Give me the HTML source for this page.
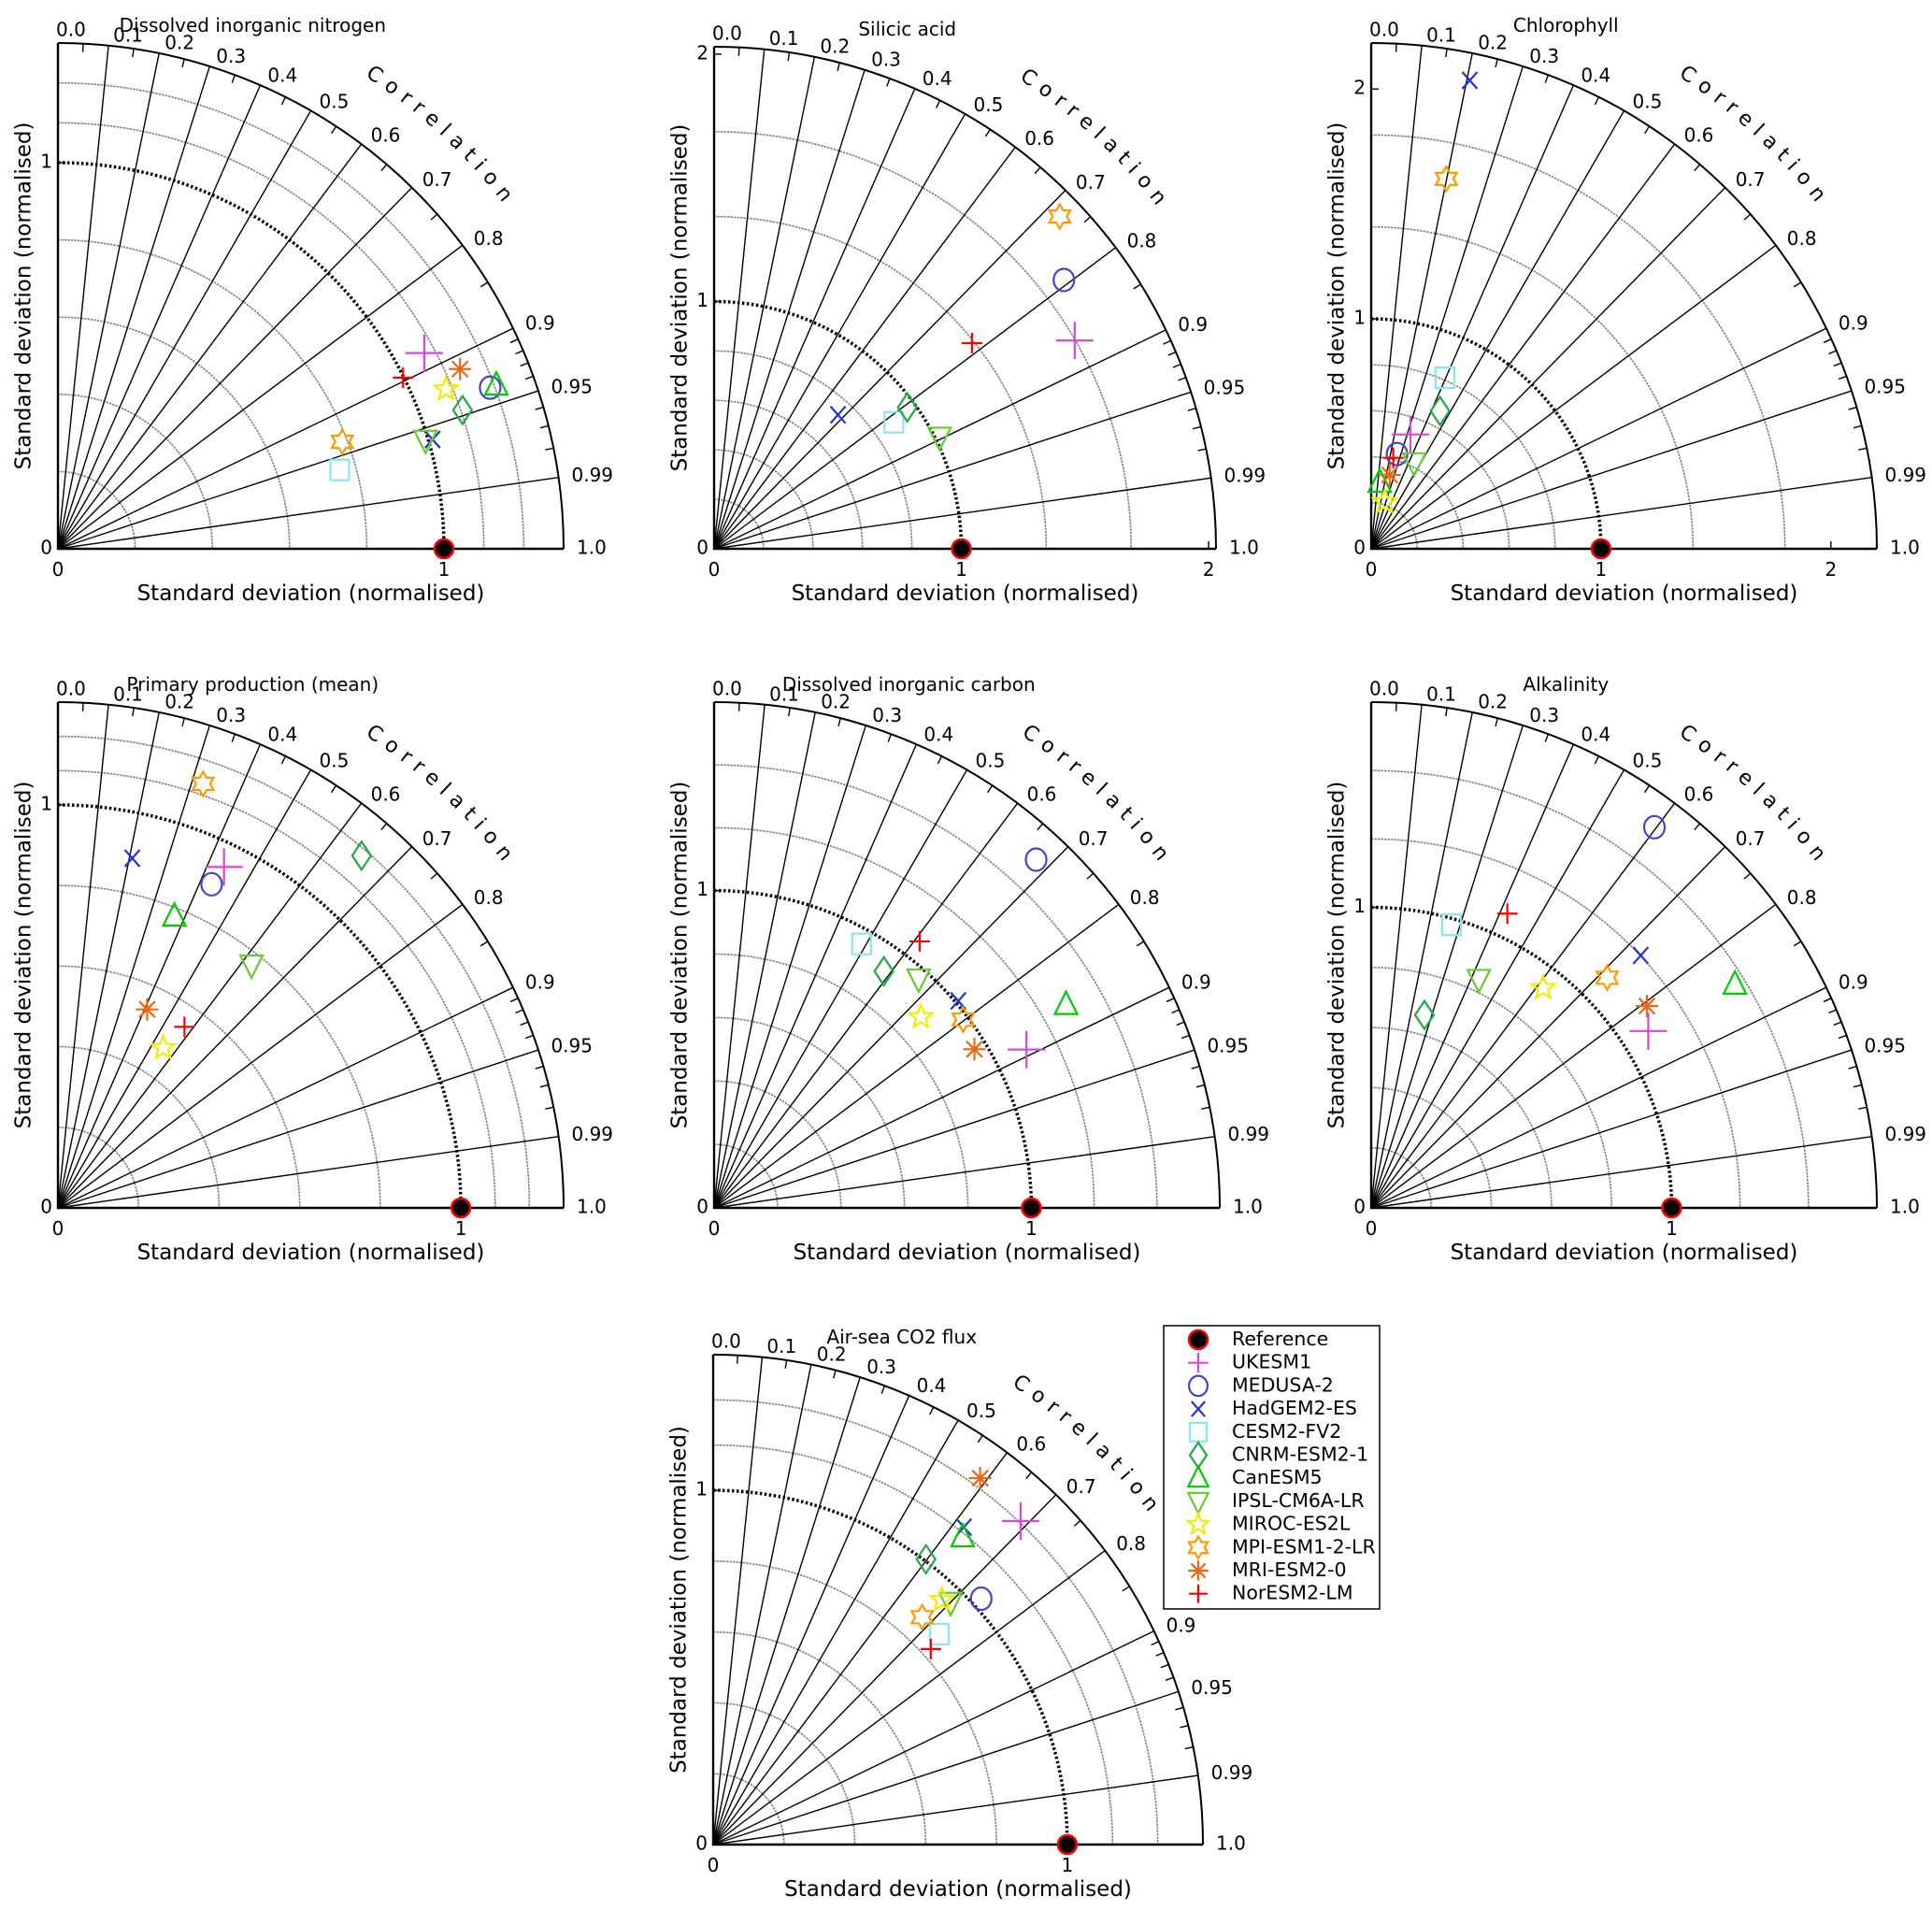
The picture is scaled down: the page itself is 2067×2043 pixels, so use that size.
<!DOCTYPE html>
<html><head><meta charset="utf-8"><style>
html,body{margin:0;padding:0;background:#fff}
svg{display:block}
text{font-family:"DejaVu Sans","Liberation Sans",sans-serif;fill:#000}
</style></head><body>
<svg id="fig" width="2067" height="2043" viewBox="0 0 2067 2043" xmlns="http://www.w3.org/2000/svg"></svg>
<script>
// ---- data ----
const models = ["UKESM1","MEDUSA-2","HadGEM2-ES","CESM2-FV2","CNRM-ESM2-1","CanESM5","IPSL-CM6A-LR","MIROC-ES2L","MPI-ESM1-2-LR","MRI-ESM2-0","NorESM2-LM"];
const panelTitles = ["Dissolved inorganic nitrogen","Silicic acid","Chlorophyll","Primary production (mean)","Dissolved inorganic carbon","Alkalinity","Air-sea CO2 flux"];
const panelMaxSD = [1.31,2.03,2.2,1.255,1.594,1.683,1.383];
const corrTicks = [0.0,0.1,0.2,0.3,0.4,0.5,0.6,0.7,0.8,0.9,0.95,0.99,1.0];
const sdDIN  = [1.076,1.195,1.011,0.758,1.108,1.212,0.993,1.087,0.787,1.141,0.998];
const corDIN = [0.882,0.937,0.960,0.963,0.946,0.937,0.959,0.925,0.936,0.913,0.896];
const sdSi   = [1.684,1.784,0.738,0.889,0.968,null,1.018,null,1.939,null,1.334];
const corSi  = [0.866,0.793,0.679,0.818,0.807,null,0.896,null,0.721,null,0.782];
const sdChl  = [0.526,0.427,2.082,0.810,0.670,0.291,0.419,0.212,1.642,0.331,0.407];
const corChl = [0.325,0.263,0.206,0.396,0.447,0.128,0.447,0.278,0.199,0.243,0.236];
const sdPP   = [0.941,0.889,0.887,null,1.154,0.779,0.771,0.475,1.112,0.540,0.548];
const corPP  = [0.438,0.429,0.208,null,0.653,0.371,0.623,0.550,0.324,0.410,0.573];
const sdDIC  = [1.104,1.495,1.009,0.953,0.918,1.281,0.968,0.887,0.984,0.961,1.061];
const corDIC = [0.892,0.679,0.763,0.488,0.583,0.866,0.666,0.735,0.798,0.854,0.611];
const sdAlk  = [1.094,1.579,1.229,0.979,0.666,1.421,0.841,0.929,1.097,1.137,1.079];
const corAlk = [0.843,0.597,0.730,0.273,0.266,0.852,0.426,0.616,0.716,0.807,0.420];
const sdCO2  = [1.260,1.027,1.142,0.872,1.005,1.118,0.958,0.946,0.872,1.280,0.826];
const corCO2 = [0.689,0.737,0.620,0.732,0.598,0.630,0.700,0.683,0.677,0.589,0.744];
const panelSD = [sdDIN,sdSi,sdChl,sdPP,sdDIC,sdAlk,sdCO2];
const panelCor = [corDIN,corSi,corChl,corPP,corDIC,corAlk,corCO2];

// ---- layout ----
const layout = [
 {ox:62,oy:587,R:541},{ox:764,oy:587,R:537},{ox:1467,oy:587,R:541},
 {ox:62,oy:1292,R:541},{ox:764,oy:1292,R:541},{ox:1467,oy:1292,R:541},
 {ox:763,oy:1973,R:524}];
const colors = ["#dd44dd","#4444cc","#2233dd","#88e6ee","#22aa44","#00cc00","#66cc33","#eeee00","#ff9900","#ee6611","#ff0000"];
const NS="http://www.w3.org/2000/svg";
const svg=document.getElementById('fig');
function el(tag,attrs,parent){const e=document.createElementNS(NS,tag);for(const k in attrs)e.setAttribute(k,attrs[k]);(parent||svg).appendChild(e);return e;}

function marker(g,i,x,y,big,k){
  k=k||1;
  const c=colors[i];const s=(big?20:12)*k;const sw=2.2;
  const st={fill:"none",stroke:c,"stroke-width":sw};
  let m;
  switch(i){
   case 0: case 10:{const h=(i==0?s:11*k);m=el('path',Object.assign({d:`M${x-h},${y}H${x+h}M${x},${y-h}V${y+h}`},st),g);break;}
   case 1: m=el('ellipse',Object.assign({cx:x,cy:y,rx:11*k,ry:12*k},st),g);break;
   case 2: m=el('path',Object.assign({d:`M${x-8*k},${y-9*k}L${x+8*k},${y+9*k}M${x+8*k},${y-9*k}L${x-8*k},${y+9*k}`},st),g);break;
   case 3: m=el('rect',Object.assign({x:x-10*k,y:y-11*k,width:20*k,height:22*k},st),g);break;
   case 4: m=el('path',Object.assign({d:`M${x},${y-15*k}L${x+10*k},${y}L${x},${y+15*k}L${x-10*k},${y}Z`},st),g);break;
   case 5: m=el('path',Object.assign({d:`M${x},${y-14*k}L${x+12*k},${y+10*k}L${x-12*k},${y+10*k}Z`},st),g);break;
   case 6: m=el('path',Object.assign({d:`M${x-12*k},${y-10*k}L${x+12*k},${y-10*k}L${x},${y+14*k}Z`},st),g);break;
   case 7: case 8:{const n=i==7?5:6;const ro=13*k,ri=(i==7?5.5:7.5)*k;let d='';
     for(let q=0;q<2*n;q++){const a=-Math.PI/2+q*Math.PI/n;const r=q%2?ri:ro;d+=(q?'L':'M')+(x+r*Math.cos(a)).toFixed(1)+','+(y+r*Math.sin(a)).toFixed(1);}
     m=el('path',Object.assign({d:d+'Z'},st),g);break;}
   case 9:{let d='';for(let q=0;q<4;q++){const a=q*Math.PI/4;d+=`M${x-12*k*Math.cos(a)},${y-12*k*Math.sin(a)}L${x+12*k*Math.cos(a)},${y+12*k*Math.sin(a)}`;}
     m=el('path',Object.assign({d:d},st),g);break;}
  }
  return m;
}

panelTitles.forEach((title,p)=>{
  const {ox,oy,R}=layout[p];const mx=panelMaxSD[p];const u=R/mx;
  const X=(sd,c)=>ox+sd*u*c, Y=(sd,c)=>oy-sd*u*Math.sqrt(Math.max(0,1-c*c));
  const g=el('g',{});
  
  
  const arcs=[0.2,0.4,0.6,0.8,1+(mx-1)/3,1+2*(mx-1)/3];
  arcs.forEach(a=>{const r=a*u;
    const ga=el('path',{d:`M${ox},${oy-r}A${r},${r} 0 0 1 ${ox+r},${oy}`,fill:'none',stroke:'#808080','stroke-width':1.6,'stroke-dasharray':'2.5 1'},g);
    });
  corrTicks.slice(1,12).forEach(c=>{
    const ln=el('line',{x1:ox,y1:oy,x2:X(mx,c),y2:Y(mx,c),stroke:'#000','stroke-width':1.4},g);
    });
  const minor=[0.05,0.15,0.25,0.35,0.45,0.55,0.65,0.75,0.85,0.91,0.92,0.93,0.94,0.96,0.97,0.98];
  minor.forEach(c=>{const s=Math.sqrt(1-c*c);el('line',{x1:ox+R*c,y1:oy-R*s,x2:ox+(R-9)*c,y2:oy-(R-9)*s,stroke:'#000','stroke-width':1.4},g);});
  const oa=el('path',{d:`M${ox},${oy-R}A${R},${R} 0 0 1 ${ox+R},${oy}`,fill:'none',stroke:'#000','stroke-width':2},g);
  
  el('path',{d:`M${ox},${oy-R}V${oy}H${ox+R}`,fill:'none',stroke:'#000','stroke-width':2.4},g);
  const ra=el('path',{d:`M${ox},${oy-u}A${u},${u} 0 0 1 ${ox+u},${oy}`,fill:'none',stroke:'#000','stroke-width':3.5,'stroke-dasharray':'2.5 2.5'},g);
  
  corrTicks.forEach(c=>{const s=Math.sqrt(1-c*c);const r=R+10;
    let tx=ox+r*c+4, ty=oy-r*s;
    if(c===0){tx=ox-2;ty=oy-R-13;}
    const t=el('text',{x:tx,y:ty,'font-size':20,'dominant-baseline':'middle'},g);t.textContent=(c===0.95||c===0.99)?String(c):c.toFixed(1);
    });
  const rc=R+62, a1=57*Math.PI/180, a2=33*Math.PI/180;
  const pid='carc'+p;
  el('path',{id:pid,d:`M${ox+rc*Math.cos(a1)},${oy-rc*Math.sin(a1)}A${rc},${rc} 0 0 1 ${ox+rc*Math.cos(a2)},${oy-rc*Math.sin(a2)}`,fill:'none',stroke:'none'},g);
  const ct=el('text',{'font-size':22,'letter-spacing':'8'},g);
  
  const tp=el('textPath',{href:'#'+pid},ct);tp.textContent='Correlation';
  const sdt=[0,1,2].filter(v=>v<=mx);
  sdt.forEach(v=>{
    const a=el('text',{x:ox+v*u,y:oy+29,'font-size':20,'text-anchor':'middle'},g);a.textContent=v;
    
    const b=el('text',{x:ox-6,y:oy-v*u,'font-size':20,'text-anchor':'end','dominant-baseline':'middle'},g);b.textContent=v;
    
    if(v>0){el('line',{x1:ox+v*u,y1:oy,x2:ox+v*u,y2:oy-8,stroke:'#000','stroke-width':1.4},g);el('line',{x1:ox,y1:oy-v*u,x2:ox+8,y2:oy-v*u,stroke:'#000','stroke-width':1.4},g);}
  });
  const tt=el('text',{x:ox+R*0.385,y:oy-R-12,'font-size':20,'text-anchor':'middle'},g);tt.textContent=title;
  
  const xl=el('text',{x:ox+R*0.5,y:oy+55,'font-size':23,'text-anchor':'middle'},g);xl.textContent='Standard deviation (normalised)';
  
  const yx=ox-36, yy=oy-R*0.5;
  const yl=el('text',{x:yx,y:yy,'font-size':23,'text-anchor':'middle','dominant-baseline':'middle',transform:`rotate(-90 ${yx} ${yy})`},g);yl.textContent='Standard deviation (normalised)';
  
  const rp=el('circle',{cx:ox+u,cy:oy,r:10,fill:'#000',stroke:'#ff0000','stroke-width':2.5},g);
  
  const sds=panelSD[p], cors=panelCor[p];
  models.forEach((m,i)=>{ if(sds[i]==null)return;
    const mk=marker(g,i,X(sds[i],cors[i]),Y(sds[i],cors[i]),i===0);
    
    
  });
});

// legend
const lg=el('g',{});


el('rect',{x:1245,y:1418,width:231,height:303,fill:'#fff',stroke:'#000','stroke-width':1.5},lg);
const labels=["Reference"].concat(models);
labels.forEach((name,k)=>{
  const y=1433+k*24.7;
  if(k===0){const c=el('circle',{cx:1282,cy:y,r:10,fill:'#000',stroke:'#ff0000','stroke-width':2.5},lg);
    }
  else{const mk=marker(lg,k-1,1282,y,false,0.9);
    }
  const t=el('text',{x:1318,y:y,'font-size':20.5,'dominant-baseline':'middle'},lg);t.textContent=name;
  
});
</script>
</body></html>
